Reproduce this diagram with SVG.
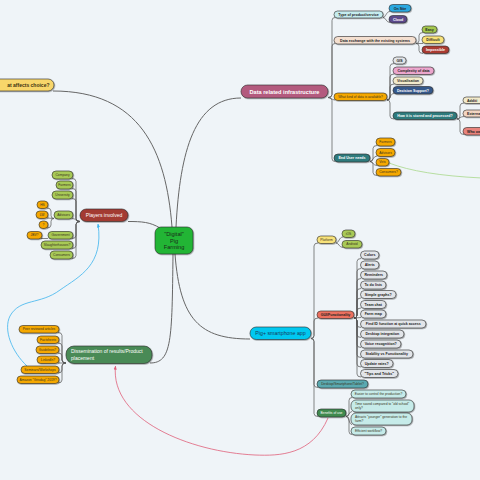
<svg xmlns="http://www.w3.org/2000/svg" width="480" height="480" viewBox="0 0 480 480">
<defs>
<filter id="sh" x="-20%" y="-40%" width="140%" height="180%"><feDropShadow dx="0.7" dy="0.7" stdDeviation="0.25" flood-color="#000" flood-opacity="0.4"/></filter>
<marker id="ab" viewBox="0 0 10 10" refX="9" refY="5" markerWidth="4" markerHeight="4" orient="auto" markerUnits="userSpaceOnUse"><path d="M0,1 L10,5 L0,9 z" fill="#3cb4ee"/></marker>
<marker id="ar" viewBox="0 0 10 10" refX="9" refY="5" markerWidth="4" markerHeight="4" orient="auto" markerUnits="userSpaceOnUse"><path d="M0,1 L10,5 L0,9 z" fill="#e0607a"/></marker>
</defs>
<style>
.c{fill:none;stroke:#555;stroke-width:.7}
.m{fill:none;stroke:#666;stroke-width:1}
rect.n{stroke:#2b2b2b;stroke-width:.6;filter:url(#sh)}
text{font-family:"Liberation Sans",Arial,sans-serif;text-anchor:middle}
.b{font-weight:bold;font-size:3.6px;fill:#222}
.r{font-size:3.3px;fill:#3a3320}
.w{fill:#fff}
.L{text-anchor:start}
.og{fill:#f5a800}
.gr{fill:#a8c957}
.gy{fill:#e2e5e9}
.bc{fill:#c6ebe9}
</style>
<rect x="0" y="0" width="480" height="480" fill="#eff4f8"/>

<g id="connectors">
<path class="m" d="M172 227 C166 150,140 91,53 91"/>
<path class="m" d="M176 227 C180 150,195 98,241 98"/>
<path class="m" d="M128 221.5 C142 221.5,150 222,160 228"/>
<path class="m" d="M173 254 C172 340,172 363,150 363"/>
<path class="m" d="M175 254 C180 320,200 339,250 339"/>

<path class="c" d="M328 97.5 Q332 97.5 332 94.5 V20.5 Q332 17.5 335 17.5"/>
<path class="c" d="M328 97.5 Q332 97.5 332 94.5 V46.5 Q332 43.5 335 43.5"/>
<path class="c" d="M328 97.5 C331 97.5 332 100 335 100"/>
<path class="c" d="M328 97.5 Q332 97.5 332 100.5 V158.5 Q332 161.5 335 161.5"/>

<path class="c" d="M383 17.5 C386 17.5 386 11.5 390 11.5"/>
<path class="c" d="M383 17.5 C386 17.5 386 22.5 390 22.5"/>

<path class="c" d="M416 43.5 Q419 43.5 419 40.5 V35.5 Q419 32.5 423 32.5"/>
<path class="c" d="M416 43.5 L423 43.5"/>
<path class="c" d="M416 43.5 Q419 43.5 419 46.5 V50.5 Q419 53.5 423 53.5"/>

<path class="c" d="M387 100 Q390 100 390 97 V66.5 Q390 63.5 394 63.5"/>
<path class="c" d="M387 100 Q390 100 390 97 V77 Q390 74 394 74"/>
<path class="c" d="M387 100 Q390 100 390 97 V87 Q390 84 394 84"/>
<path class="c" d="M387 100 C390 100 390 93.5 394 93.5"/>
<path class="c" d="M387 100 Q390 100 390 103 V116 Q390 119 394 119"/>

<path class="c" d="M457 119 Q460 119 460 116 V106 Q460 103 464 103"/>
<path class="c" d="M457 119 C460 119 460 116.5 464 116.5"/>
<path class="c" d="M457 119 Q460 119 460 122 V131.5 Q460 134.5 464 134.5"/>

<path class="c" d="M370 161.5 Q373 161.5 373 158.5 V148.5 Q373 145.5 377 145.5"/>
<path class="c" d="M370 161.5 C373 161.5 373 156 377 156"/>
<path class="c" d="M370 161.5 C373 161.5 373 165.5 377 165.5"/>
<path class="c" d="M370 161.5 Q373 161.5 373 164.5 V172.5 Q373 175.5 377 175.5"/>

<path class="c" d="M311 338.5 Q314 338.5 314 335.5 V246 Q314 243 318 243"/>
<path class="c" d="M311 338.5 Q314 338.5 314 335.5 V321 Q314 318 318 318"/>
<path class="c" d="M311 338.5 Q314 338.5 314 341.5 V384.5 Q314 387.5 318 387.5"/>
<path class="c" d="M311 338.5 Q314 338.5 314 341.5 V413.5 Q314 416.5 318 416.5"/>

<path class="c" d="M336 243 C339 243 339 237 343 237"/>
<path class="c" d="M336 243 C339 243 339 247.5 343 247.5"/>

<path class="c" d="M354 318 Q357 318 357 315 V261.5 Q357 258.5 361 258.5"/>
<path class="c" d="M354 318 Q357 318 357 315 V271.5 Q357 268.5 361 268.5"/>
<path class="c" d="M354 318 Q357 318 357 315 V281.5 Q357 278.5 361 278.5"/>
<path class="c" d="M354 318 Q357 318 357 315 V291.5 Q357 288.5 361 288.5"/>
<path class="c" d="M354 318 Q357 318 357 315 V301 Q357 298 361 298"/>
<path class="c" d="M354 318 Q357 318 357 315 V311 Q357 308 361 308"/>
<path class="c" d="M354 318 L361 317.5"/>
<path class="c" d="M354 318 Q357 318 357 321 V324.5 Q357 327.5 361 327.5"/>
<path class="c" d="M354 318 Q357 318 357 321 V334.5 Q357 337.5 361 337.5"/>
<path class="c" d="M354 318 Q357 318 357 321 V344.5 Q357 347.5 361 347.5"/>
<path class="c" d="M354 318 Q357 318 357 321 V354.5 Q357 357.5 361 357.5"/>
<path class="c" d="M354 318 Q357 318 357 321 V364 Q357 367 361 367"/>
<path class="c" d="M354 318 Q357 318 357 321 V374 Q357 377 361 377"/>

<path class="c" d="M346 416.5 Q349 416.5 349 413.5 V400.5 Q349 397.5 352 397.5"/>
<path class="c" d="M346 416.5 C349 416.5 349 411.5 352 411.5"/>
<path class="c" d="M346 416.5 C349 416.5 349 424.5 352 424.5"/>
<path class="c" d="M346 416.5 Q349 416.5 349 419.5 V431.5 Q349 434.5 352 434.5"/>

<path class="c" d="M80 221.5 Q76 221.5 76 218.5 V181.5 Q76 178.5 72 178.5"/>
<path class="c" d="M80 221.5 Q76 221.5 76 218.5 V191.5 Q76 188.5 72 188.5"/>
<path class="c" d="M80 221.5 Q76 221.5 76 218.5 V201.5 Q76 198.5 72 198.5"/>
<path class="c" d="M80 221.5 C76 221.5 76 218.5 72 218.5"/>
<path class="c" d="M80 221.5 Q76 221.5 76 224.5 V235.5 Q76 238.5 72 238.5"/>
<path class="c" d="M80 221.5 Q76 221.5 76 224.5 V245.5 Q76 248.5 72 248.5"/>
<path class="c" d="M80 221.5 Q76 221.5 76 224.5 V255.5 Q76 258.5 72 258.5"/>

<path class="c" d="M54 218.5 Q51 218.5 51 215.5 V211 Q51 208 47 208"/>
<path class="c" d="M54 218.5 L47 218"/>
<path class="c" d="M54 218.5 Q51 218.5 51 221.5 V225 Q51 228 47 228"/>
<path class="c" d="M48 238.5 L41 238.5"/>

<path class="c" d="M66 363 Q62 363 62 360 V335.5 Q62 332.5 58 332.5"/>
<path class="c" d="M66 363 Q62 363 62 360 V346 Q62 343 58 343"/>
<path class="c" d="M66 363 Q62 363 62 360 V356 Q62 353 58 353"/>
<path class="c" d="M66 363 L58 363"/>
<path class="c" d="M66 363 Q62 363 62 366 V370 Q62 373 58 373"/>
<path class="c" d="M66 363 Q62 363 62 366 V380 Q62 383 58 383"/>

<path d="M27 366 C12 352,3 330,10 316 C20 298,40 305,60 290 C80 276,104 265,98 224" fill="none" stroke="#3cb4ee" stroke-width="0.8" marker-end="url(#ab)"/>
<path d="M328 418 C312 455,280 456,255 455 C190 452,110 420,115.5 366" fill="none" stroke="#e0607a" stroke-width="0.8" marker-end="url(#ar)"/>
<path d="M389 163 Q420 175 482 178" fill="none" stroke="#a8d88a" stroke-width="0.8"/>
</g>

<g id="n-center"><rect class="n" x="155" y="227" width="38" height="27" rx="6" fill="#22b534"/>
<text x="174" y="236.2" font-size="5.6" fill="#1a2a1a">"Digital"</text><text x="174" y="242.7" font-size="5.6" fill="#1a2a1a">Pig</text><text x="174" y="249.2" font-size="5.6" fill="#1a2a1a">Farming</text></g>

<g id="n-affects"><rect class="n" x="-12" y="79" width="66" height="12" rx="6" fill="#f8d66b"/><text x="49.5" y="86.8" font-size="5" font-weight="bold" fill="#3a3010" style="text-anchor:end">at affects choice?</text></g>

<g id="n-dri"><rect class="n" x="241" y="85" width="87" height="13" rx="6.5" fill="#b35a7e"/><text x="284.5" y="93.5" font-size="5.6" font-weight="bold" fill="#fff">Data related infrastructure</text></g>
<g id="n-type"><rect class="n" x="334" y="11" width="49" height="7" rx="3.5" fill="#c6ecef"/><text class="b" x="358.5" y="15.7">Type of product/service</text></g>
<g id="n-onsite"><rect class="n" x="389" y="4.5" width="22" height="7.5" rx="3.75" fill="#2aa8e0"/><text class="b" x="400" y="9.5">On Site</text></g>
<g id="n-cloud"><rect class="n" x="389" y="15.5" width="18" height="7.5" rx="3.75" fill="#5b4a8b"/><text class="b w" x="398" y="20.5">Cloud</text></g>
<g id="n-dex"><rect class="n" x="334" y="36.5" width="82" height="7.5" rx="3.75" fill="#f4dfd0"/><text class="b" x="375" y="41.5">Data exchange with the existing systems</text></g>
<g id="n-easy"><rect class="n" x="422" y="26" width="15" height="7" rx="3.5" fill="#a5c84f"/><text class="b" x="429.5" y="30.7">Easy</text></g>
<g id="n-diff"><rect class="n" x="422" y="36" width="22" height="7.5" rx="3.75" fill="#f8e27a"/><text class="b" x="433" y="41">Difficult</text></g>
<g id="n-imp"><rect class="n" x="422" y="46" width="27" height="7.5" rx="3.75" fill="#aa3a30"/><text class="b w" x="435.5" y="51">Impossible</text></g>
<g id="n-what"><rect class="n" x="334" y="93" width="53" height="7.5" rx="3.75" fill="#f5a800"/><text class="r" x="360.5" y="97.9">What kind of data is available?</text></g>
<g id="n-gis"><rect class="n" x="393" y="57" width="13" height="7" rx="3.5" fill="#e2e5e9"/><text class="b" x="399.5" y="61.7">GIS</text></g>
<g id="n-comp"><rect class="n" x="393" y="67" width="41" height="7.5" rx="3.75" fill="#eca6cd"/><text class="b" x="413.5" y="72">Complexity of data</text></g>
<g id="n-vis"><rect class="n" x="393" y="77" width="30" height="7.5" rx="3.75" fill="#f2eacb"/><text class="b" x="408" y="81.9">Visualisation</text></g>
<g id="n-dec"><rect class="n" x="393" y="86.5" width="40" height="7.5" rx="3.75" fill="#36598a"/><text class="b w" x="413" y="91.5">Decision Support?</text></g>
<g id="n-how"><rect class="n" x="393" y="112" width="64" height="7.5" rx="3.75" fill="#2e7a7b"/><text class="b w" x="425" y="117">How it is stored and processed?</text></g>
<g id="n-add"><rect class="n" x="463" y="97" width="30" height="6.5" rx="3.25" fill="#f2eacb"/><text class="b L" x="467" y="101.5">Additi</text></g>
<g id="n-ext"><rect class="n" x="463" y="110" width="30" height="7" rx="3.5" fill="#f3d5c2"/><text class="b L" x="467" y="114.7">Externa</text></g>
<g id="n-who"><rect class="n" x="463" y="127.5" width="30" height="7.5" rx="3.75" fill="#e8837c"/><text class="b L" x="467" y="132.5">Who ow</text></g>
<g id="n-eun"><rect class="n" x="334" y="154" width="36" height="8" rx="4" fill="#2e7a7b"/><text class="b w" x="352" y="159.2">End User needs</text></g>
<g id="n-farmers2"><rect class="n og" x="376" y="138" width="19" height="8" rx="4"/><text class="r" x="385.5" y="143.1">Farmers</text></g>
<g id="n-advisors2"><rect class="n og" x="376" y="148.5" width="19" height="8" rx="4"/><text class="r" x="385.5" y="153.6">Advisors</text></g>
<g id="n-vets"><rect class="n og" x="376" y="158.5" width="13" height="7.5" rx="3.75"/><text class="r" x="382.5" y="163.4">Vets</text></g>
<g id="n-consumers2"><rect class="n og" x="376" y="168.5" width="25" height="7.5" rx="3.75"/><text class="r" x="388.5" y="173.4">Consumers?</text></g>

<g id="n-players"><rect class="n" x="80" y="209" width="48" height="12.5" rx="6.25" fill="#a33a32"/><text x="104" y="217" font-size="5" fill="#fff">Players involved</text></g>
<g id="n-company"><rect class="n gr" x="52" y="171" width="21" height="8" rx="4"/><text class="r" x="62.5" y="176.1">Company</text></g>
<g id="n-farmers"><rect class="n gr" x="56" y="181" width="17" height="8" rx="4"/><text class="r" x="64.5" y="186.1">Farmers</text></g>
<g id="n-university"><rect class="n gr" x="52" y="191" width="21" height="8" rx="4"/><text class="r" x="62.5" y="196.1">University</text></g>
<g id="n-advisors"><rect class="n gr" x="54" y="211" width="19" height="8" rx="4"/><text class="r" x="63.5" y="216.1">Advisors</text></g>
<g id="n-government"><rect class="n gr" x="48" y="231.5" width="25" height="7.5" rx="3.75"/><text class="r" x="60.5" y="236.4">Government</text></g>
<g id="n-slaughter"><rect class="n gr" x="41" y="241" width="32" height="8" rx="4"/><text class="r" x="57" y="246.1">Slaughterhouses?</text></g>
<g id="n-consumers"><rect class="n gr" x="50" y="251" width="23" height="8" rx="4"/><text class="r" x="61.5" y="256.1">Consumers</text></g>
<g id="n-hs"><rect class="n og" x="37" y="201" width="11" height="7.5" rx="3.75"/><text class="r" x="42.5" y="205.9">HS</text></g>
<g id="n-lw"><rect class="n og" x="36" y="211" width="12" height="7.5" rx="3.75"/><text class="r" x="42" y="215.9">LW</text></g>
<g id="n-q"><rect class="n og" x="39" y="221" width="9" height="7.5" rx="3.75"/><text class="r" x="43.5" y="225.9">?</text></g>
<g id="n-jbv"><rect class="n og" x="27" y="231.5" width="15" height="7.5" rx="3.75"/><text class="r" x="34.5" y="236.4">JBV?</text></g>

<g id="n-diss"><rect class="n" x="66" y="346" width="86" height="17.5" rx="8" fill="#4a8a57"/><text class="L" x="71" y="353.4" font-size="5" fill="#fff">Dissemination of results/Product</text><text class="L" x="71" y="359.6" font-size="5" fill="#fff">placement</text></g>
<g id="n-peer"><rect class="n og" x="19" y="325.5" width="40" height="7.5" rx="3.75"/><text class="r" x="39" y="330.4">Peer reviewed articles</text></g>
<g id="n-facts"><rect class="n og" x="37" y="336" width="22" height="7.5" rx="3.75"/><text class="r" x="48" y="340.9">Factsheets</text></g>
<g id="n-guide"><rect class="n og" x="36" y="346" width="23" height="7.5" rx="3.75"/><text class="r" x="47.5" y="350.9">Guidelines?</text></g>
<g id="n-linkedin"><rect class="n og" x="37" y="356" width="22" height="7.5" rx="3.75"/><text class="r" x="48" y="360.9">LinkedIn?</text></g>
<g id="n-seminars"><rect class="n og" x="21" y="366" width="38" height="7.5" rx="3.75"/><text class="r" x="40" y="370.9">Seminars/Workshops</text></g>
<g id="n-amazon"><rect class="n og" x="17" y="376" width="42" height="7.5" rx="3.75"/><text class="r" x="38" y="380.9">Amazon "Grisdag" 2019?</text></g>

<g id="n-pig"><rect class="n" x="250" y="327" width="61" height="12.5" rx="6.25" fill="#00c8f0"/><text x="280.5" y="335.1" font-size="5.3" fill="#163a5a">Pig+ smartphone app</text></g>
<g id="n-platform"><rect class="n" x="317" y="236" width="19" height="7.5" rx="3.75" fill="#f8e27a"/><text class="r" x="326.5" y="240.9">Platform</text></g>
<g id="n-ios"><rect class="n gr" x="342" y="230" width="13" height="7.5" rx="3.75"/><text class="r" x="348.5" y="234.9">iOS</text></g>
<g id="n-android"><rect class="n gr" x="342" y="240.5" width="20" height="7.5" rx="3.75"/><text class="r" x="352" y="245.4">Android</text></g>
<g id="n-gui"><rect class="n" x="317" y="311" width="37" height="7.5" rx="3.75" fill="#ec6f5f"/><text class="b" x="335.5" y="315.9">GUI/Functionality</text></g>
<g id="n-colors"><rect class="n gy" x="360.5" y="251" width="18.5" height="8" rx="4"/><text class="b" x="369.75" y="256.2">Colors</text></g>
<g id="n-alerts"><rect class="n gy" x="360.5" y="261" width="18.5" height="8" rx="4"/><text class="b" x="369.75" y="266.2">Alerts</text></g>
<g id="n-reminders"><rect class="n gy" x="360.5" y="271" width="26.5" height="8" rx="4"/><text class="b" x="373.75" y="276.2">Reminders</text></g>
<g id="n-todo"><rect class="n gy" x="360.5" y="281" width="25.5" height="8" rx="4"/><text class="b" x="373.25" y="286.2">To do lists</text></g>
<g id="n-graphs"><rect class="n gy" x="360.5" y="290.5" width="35.5" height="8" rx="4"/><text class="b" x="378.25" y="295.7">Simple graphs?</text></g>
<g id="n-team"><rect class="n gy" x="360.5" y="300.5" width="25.5" height="8" rx="4"/><text class="b" x="373.25" y="305.7">Team chat</text></g>
<g id="n-farmmap"><rect class="n gy" x="360.5" y="310" width="25.5" height="8" rx="4"/><text class="b" x="373.25" y="315.2">Farm map</text></g>
<g id="n-findid"><rect class="n gy" x="360.5" y="320" width="65.5" height="8" rx="4"/><text class="b" x="393.25" y="325.2">Find ID function at quick access</text></g>
<g id="n-desktop"><rect class="n gy" x="360.5" y="330" width="43.5" height="8" rx="4"/><text class="b" x="382.25" y="335.2">Desktop integration</text></g>
<g id="n-voice"><rect class="n gy" x="360.5" y="340" width="40.5" height="8" rx="4"/><text class="b" x="380.75" y="345.2">Voice recognition?</text></g>
<g id="n-stability"><rect class="n gy" x="360.5" y="350" width="52.5" height="8" rx="4"/><text class="b" x="386.75" y="355.2">Stability vs Functionality</text></g>
<g id="n-update"><rect class="n gy" x="360.5" y="359.5" width="32.5" height="8" rx="4"/><text class="b" x="376.75" y="364.7">Update rates?</text></g>
<g id="n-tips"><rect class="n gy" x="360.5" y="369.5" width="37.5" height="8" rx="4"/><text class="b" x="379.25" y="374.7">"Tips and Tricks"</text></g>
<g id="n-dst"><rect class="n" x="317" y="380" width="51" height="8" rx="4" fill="#5aa9b0"/><text class="r" x="342.5" y="385.1" fill="#1f3a3c">Desktop/Smartphone/Tablet?</text></g>
<g id="n-benefits"><rect class="n" x="317" y="409" width="29" height="8" rx="4" fill="#3f8a50"/><text class="r w" x="331.5" y="414.1">Benefits of use</text></g>
<g id="n-easier"><rect class="n bc" x="351" y="390" width="55" height="8" rx="4"/><text class="r" x="378.5" y="395.1" font-size="3.1">Easier to control the production?</text></g>
<g id="n-time"><rect class="n bc" x="351" y="400" width="63" height="12" rx="5"/><text class="r L" x="355" y="404.6" font-size="3.1">Time saved compared to "old school"</text><text class="r L" x="355" y="409.3" font-size="3.1">only?</text></g>
<g id="n-attracts"><rect class="n bc" x="351" y="413" width="61" height="12" rx="5"/><text class="r L" x="355" y="417.7" font-size="3.1">Attracts "younger" generation to the</text><text class="r L" x="355" y="422.3" font-size="3.1">farm?</text></g>
<g id="n-efficient"><rect class="n bc" x="351" y="427" width="35" height="8" rx="4"/><text class="r" x="368.5" y="432.1" font-size="3.1">Efficient workflow?</text></g>
</svg>
